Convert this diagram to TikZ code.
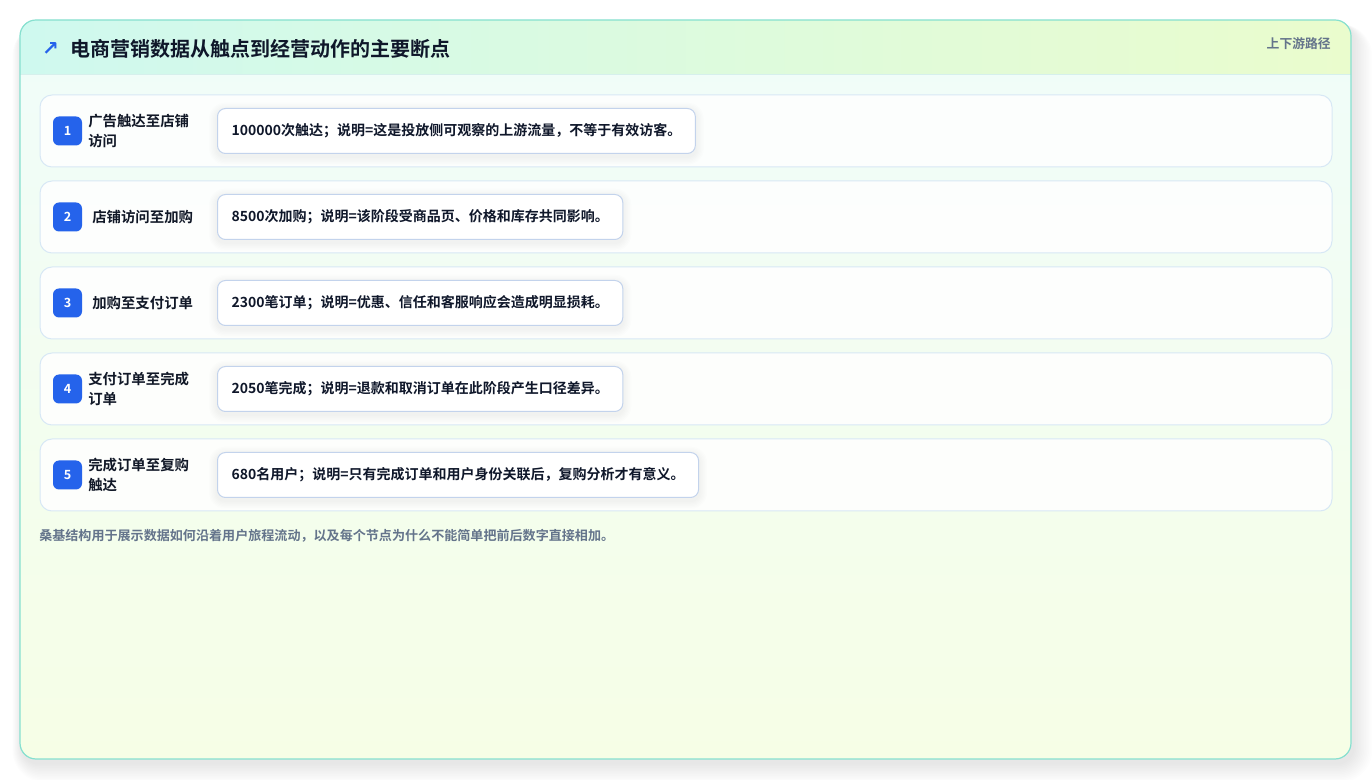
\documentclass[tikz,border=0pt]{standalone}
\usepackage{fontspec}
\setmainfont{Noto Sans CJK SC}
\newfontfamily\cjkb{Noto Sans CJK SC Bold}
\newfontfamily\symf{DejaVu Sans}
\definecolor{cardborder}{HTML}{86E0CF}
\definecolor{headL}{HTML}{CFF9EF}
\definecolor{headR}{HTML}{EAFCCD}
\definecolor{bodyT}{HTML}{F0FDFA}
\definecolor{bodyB}{HTML}{F6FEE6}
\definecolor{rowborder}{HTML}{D8E8F5}
\definecolor{valborder}{HTML}{C3D3EC}
\definecolor{badgeblue}{HTML}{2563EB}
\definecolor{titlec}{HTML}{0F172A}
\definecolor{labelc}{HTML}{111827}
\definecolor{grayc}{HTML}{64748B}
\definecolor{headline}{HTML}{D6F0EC}
\tikzset{
  rowbox/.style={draw=rowborder, line width=0.75pt, fill=white, fill opacity=0.85, rounded corners=9pt, minimum width=969pt, minimum height=54pt, inner sep=0pt},
  badge/.style={fill=badgeblue, rounded corners=4.5pt, minimum width=21.75pt, minimum height=21.75pt, inner sep=0pt, text=white, font=\cjkb\fontsize{9.5pt}{11pt}\selectfont},
  lbl/.style={anchor=west, align=left, text=labelc, inner sep=0pt, font=\cjkb\fontsize{10.8pt}{15pt}\selectfont},
  valbox/.style={anchor=west, draw=valborder, line width=0.75pt, fill=white, rounded corners=6pt, minimum height=33.75pt, inner xsep=10.5pt, inner ysep=0pt, text=titlec, font=\cjkb\fontsize{10.5pt}{12pt}\selectfont},
}
\newcommand{\valshadow}[1]{%
  \foreach \k in {1,...,6}{
    \fill[black, opacity=0.009, rounded corners=6pt+\k pt]
      ([xshift=-\k pt, yshift=-2pt+\k pt]#1.north west) rectangle ([xshift=\k pt, yshift=-2pt-\k pt]#1.south east);
  }%
}
\begin{document}
\begin{tikzpicture}[x=0.75pt,y=-0.75pt]
\useasboundingbox (0,0) rectangle (1372,780);
\fill[white] (0,0) rectangle (1372,780);
% card shadow (manual soft layers)
\foreach \k in {1,...,12}{
  \fill[black, opacity=0.008, rounded corners=12pt+\k pt]
    ([xshift=-0.6*\k pt]22,24) rectangle ([xshift=1.2*\k pt, yshift=-1.2*\k pt]1353,763);
}
\begin{scope}
  \clip[rounded corners=12pt] (20,20) rectangle (1351,759);
  \shade[top color=bodyT, bottom color=bodyB] (20,20) rectangle (1351,759);
  \shade[left color=headL, right color=headR] (20,20) rectangle (1351,75);
  \draw[headline, line width=0.75pt] (20,75) -- (1351,75);
\end{scope}
\node[name=card, draw=cardborder, line width=0.9pt, rounded corners=12pt, minimum width=998.25pt, minimum height=554.25pt, inner sep=0pt] at (685.5,389.5) {};
% header
\node[name=arrowicon, text=badgeblue, font=\symf\bfseries\fontsize{15pt}{16pt}\selectfont, inner sep=0pt] at (50.5,49) {↗};
\node[name=title, anchor=west, text=titlec, inner sep=0pt, font=\cjkb\fontsize{15pt}{16pt}\selectfont] at (70,49) {电商营销数据从触点到经营动作的主要断点};
\node[name=tag, anchor=east, text=grayc, inner sep=0pt, font=\cjkb\fontsize{9.6pt}{11pt}\selectfont] at (1331,44) {上下游路径};
% rows
\node[rowbox, name=r1] at (686,131) {};
\node[rowbox, name=r2] at (686,217) {};
\node[rowbox, name=r3] at (686,303) {};
\node[rowbox, name=r4] at (686,389) {};
\node[rowbox, name=r5] at (686,475) {};
\node[badge, name=b1] at (67.5,131) {1};
\node[badge, name=b2] at (67.5,217) {2};
\node[badge, name=b3] at (67.5,303) {3};
\node[badge, name=b4] at (67.5,389) {4};
\node[badge, name=b5] at (67.5,475) {5};
\node[lbl, name=l1] at (88,131) {广告触达至店铺\\访问};
\node[lbl, name=l2] at (92,217) {店铺访问至加购};
\node[lbl, name=l3] at (92,303) {加购至支付订单};
\node[lbl, name=l4] at (88,389) {支付订单至完成\\订单};
\node[lbl, name=l5] at (88,475) {完成订单至复购\\触达};
% value boxes: measure first (invisible), then shadow, then draw
\node[valbox, draw=none, fill=none, text opacity=0, name=m1] at (217,131) {100000次触达；说明=这是投放侧可观察的上游流量，不等于有效访客。};
\node[valbox, draw=none, fill=none, text opacity=0, name=m2] at (217,217) {8500次加购；说明=该阶段受商品页、价格和库存共同影响。};
\node[valbox, draw=none, fill=none, text opacity=0, name=m3] at (217,303) {2300笔订单；说明=优惠、信任和客服响应会造成明显损耗。};
\node[valbox, draw=none, fill=none, text opacity=0, name=m4] at (217,389) {2050笔完成；说明=退款和取消订单在此阶段产生口径差异。};
\node[valbox, draw=none, fill=none, text opacity=0, name=m5] at (217,475) {680名用户；说明=只有完成订单和用户身份关联后，复购分析才有意义。};
\valshadow{m1}\valshadow{m2}\valshadow{m3}\valshadow{m4}\valshadow{m5}
\node[valbox, name=v1] at (217,131) {100000次触达；说明=这是投放侧可观察的上游流量，不等于有效访客。};
\node[valbox, name=v2] at (217,217) {8500次加购；说明=该阶段受商品页、价格和库存共同影响。};
\node[valbox, name=v3] at (217,303) {2300笔订单；说明=优惠、信任和客服响应会造成明显损耗。};
\node[valbox, name=v4] at (217,389) {2050笔完成；说明=退款和取消订单在此阶段产生口径差异。};
\node[valbox, name=v5] at (217,475) {680名用户；说明=只有完成订单和用户身份关联后，复购分析才有意义。};
% footnote
\node[name=foot, anchor=west, text=grayc, inner sep=0pt, font=\cjkb\fontsize{9.8pt}{11pt}\selectfont] at (39,536) {桑基结构用于展示数据如何沿着用户旅程流动，以及每个节点为什么不能简单把前后数字直接相加。};
\end{tikzpicture}
\end{document}
